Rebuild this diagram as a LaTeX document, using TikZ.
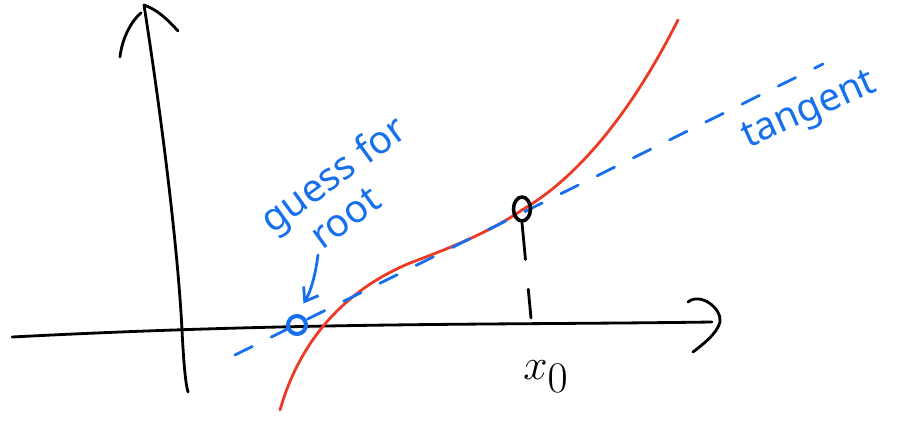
\documentclass[tikz,border=0pt]{standalone}
\usepackage{fontspec}
\setmainfont{Noto Sans}
\usetikzlibrary{shapes.geometric,arrows.meta}
\definecolor{penred}{RGB}{236,58,38}
\definecolor{penblue}{RGB}{22,112,238}
\tikzset{
  ink/.style={line width=1.6pt, line cap=round, line join=round},
  note/.style={text=penblue, font=\fontsize{22}{26}\selectfont, inner sep=0pt}
}
\begin{document}
\begin{tikzpicture}[x=0.02cm, y=-0.02cm]
            \useasboundingbox (0,0) rectangle (907,423);
            % Assi
            \draw[ink] (12,337) .. controls (300,322) and (500,325) .. (712,322);
            \draw[ink] (688,302) .. controls (700,292) and (722,308) .. (720,322) .. controls (717,334) and (702,345) .. (693,352);
            \draw[ink] (144,5) .. controls (162,120) and (178,250) .. (182,330) .. controls (184,370) and (186,385) .. (188,392);
            \draw[ink] (120,57) .. controls (122,38) and (132,20) .. (141,13);
            \draw[ink] (144,5) .. controls (158,10) and (168,20) .. (178,31);
            % Funzione
            \draw[ink, penred] (280,410) .. controls (300,340) and (345,290) .. (410,263)
                .. controls (450,248) and (490,232) .. (522,210)
                .. controls (570,182) and (625,125) .. (678,20);
            % Tangente
            \draw[ink, penblue, dash pattern=on 11pt off 12pt] (235,355) -- (823,64);
            % Punti
            \node[ellipse, draw, line width=2pt, minimum width=0.34cm, minimum height=0.48cm, inner sep=0pt] (x0pt) at (522,209) {};
            \node[circle, draw=penblue, line width=2.3pt, minimum size=0.36cm, inner sep=0pt] (guess) at (297,325) {};
            \coordinate (x0foot) at (531,318);
            \draw[ink, dash pattern=on 21pt off 17pt] (x0pt.south) -- (x0foot);
            \node[inner sep=0pt, font=\fontsize{38}{38}\selectfont] (x0lab) at (546,377) {$x_0$};
            % Etichette
            \node[note, rotate=36, align=left] (guessroot) at (345,190) {guess for\\[-2pt]\hspace*{0.8em}root};
            \coordinate (rootend) at (318,255);
            \draw[ink, penblue, -{Straight Barb[length=7pt, width=10pt]}, shorten >=7pt] (rootend) to[bend left=12] (guess.north);
            \node[note, rotate=24] (tangent) at (810,112) {tangent};
        \end{tikzpicture}
\end{document}
